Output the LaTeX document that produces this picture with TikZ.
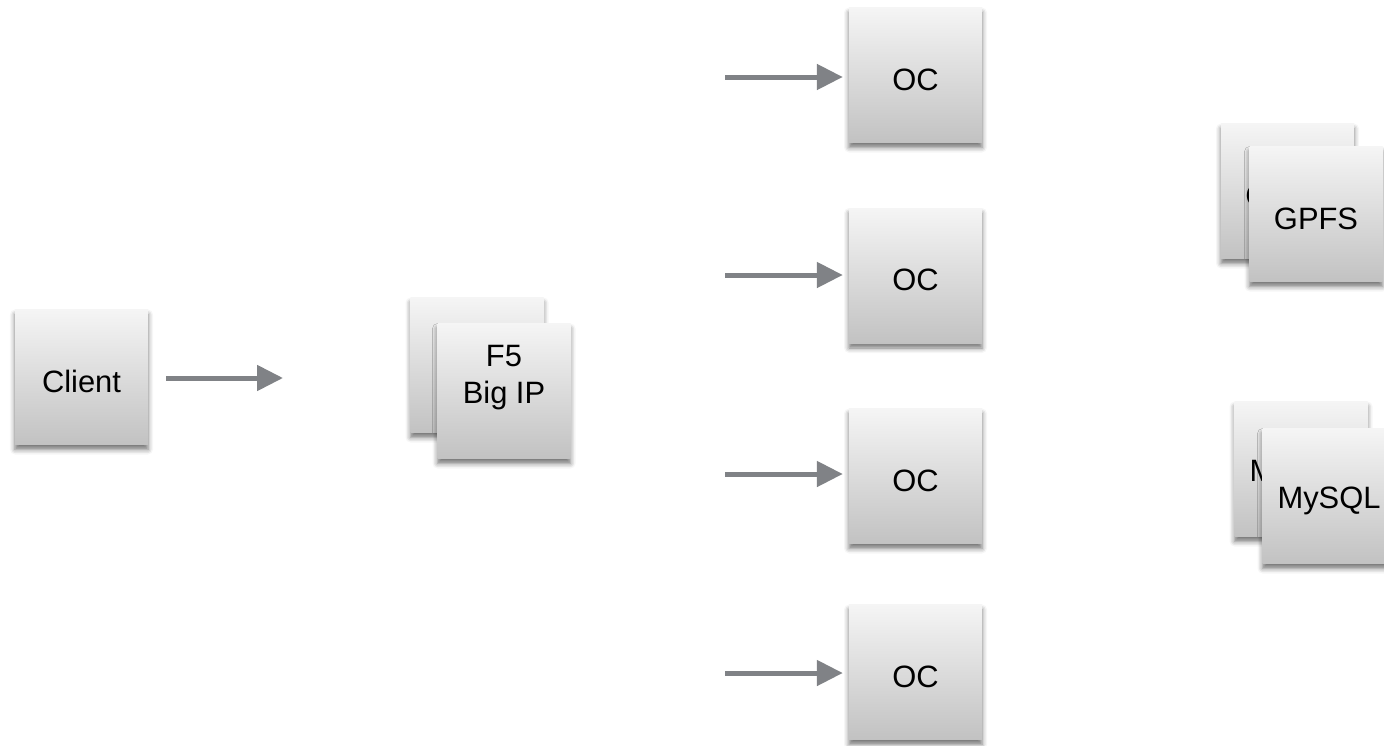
\documentclass[tikz,border=0pt]{standalone}
\usepackage{fontspec}
\setmainfont{Liberation Sans}
\usetikzlibrary{arrows.meta,shadows.blur}
\definecolor{boxtop}{HTML}{F5F5F5}
\definecolor{boxbot}{HTML}{C2C2C2}
\definecolor{arrowgray}{HTML}{808286}
\tikzset{
  box/.style={rectangle, draw=none, minimum width=133bp, minimum height=135bp,
    inner sep=0pt, align=center, top color=boxtop, bottom color=boxbot,
    font=\fontsize{31}{37}\selectfont, text=black, text height=31bp,
    blur shadow={shadow xshift=0bp, shadow yshift=-5bp, shadow blur radius=5bp, shadow opacity=55}},
  flow/.style={draw=arrowgray, line width=5bp, -{Triangle[length=26bp,width=25bp]}}
}
\begin{document}
\begin{tikzpicture}[x=1bp,y=-1bp]
\useasboundingbox (0,0) rectangle (1384,745);
% Client
\node[box] (client) at (81.5,377) {Client};
\coordinate (clientend) at (283,378);
% F5
\node[box] (f5back) at (477,365) {};
\node[box] (f5) at (504,391) {F5\\Big IP};
% OC nodes
\node[box] (oc1) at (915.5,75) {OC};
\node[box] (oc2) at (915.5,275.5) {OC};
\node[box] (oc3) at (915.5,476) {OC};
\node[box] (oc4) at (915.5,672) {OC};
\coordinate (s1) at (725,77);
\coordinate (s2) at (725,275);
\coordinate (s3) at (725,474);
\coordinate (s4) at (725,673);
% GPFS
\node[box] (gpfsback) at (1287.5,191) {GPFS};
\node[box] (gpfs) at (1316,214) {GPFS};
% MySQL
\node[box] (mysqlback) at (1301,469) {MySQL};
\node[box] (mysql) at (1329,496) {MySQL};
% Arrows
\draw[flow, shorten <=18bp] (client.east |- clientend) -- (clientend);
\draw[flow, shorten >=6bp] (s1) -- (oc1.west |- s1);
\draw[flow, shorten >=6bp] (s2) -- (oc2.west |- s2);
\draw[flow, shorten >=6bp] (s3) -- (oc3.west |- s3);
\draw[flow, shorten >=6bp] (s4) -- (oc4.west |- s4);
\end{tikzpicture}
\end{document}
